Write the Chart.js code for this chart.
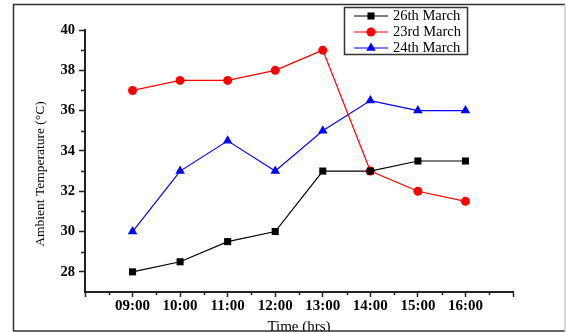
<!DOCTYPE html>
<html>
<head>
<meta charset="utf-8">
<script src="https://cdn.jsdelivr.net/npm/chart.js@4/dist/chart.umd.min.js"></script>
<style>
  html, body { margin: 0; padding: 0; background: #fff; overflow: hidden; }
  #wrap { width: 566px; height: 332px; position: relative; }
</style>
</head>
<body>
<div id="wrap"><canvas id="chart" width="566" height="332"></canvas></div>
<script>
// Hourly ambient temperature readings
const timeLabels = ['09:00', '10:00', '11:00', '12:00', '13:00', '14:00', '15:00', '16:00'];
const march26 = [28, 28.5, 29.5, 30, 33, 33, 33.5, 33.5];
const march23 = [37, 37.5, 37.5, 38, 39, 33, 32, 31.5];
const march24 = [30, 33, 34.5, 33, 35, 36.5, 36, 36];
const seriesNames = ['26th March', '23rd March', '24th March'];

// Axis ticks
const xTickHours = [8, 9, 10, 11, 12, 13, 14, 15, 16, 17];
const yTickValues = [28, 30, 32, 34, 36, 38, 40];
const xTitle = 'Time (hrs)';
const yTitle = 'Ambient Temperature (\u00B0C)';

const SERIF = '"Liberation Serif", "Times New Roman", serif';
const AXIS = '#222';

const hours = timeLabels.map(t => parseInt(t, 10));
const toPoints = vals => hours.map((h, i) => ({ x: h, y: vals[i] }));

function hourLabel(v) {
  const i = hours.indexOf(v);
  return i >= 0 ? timeLabels[i] : '';
}

function drawMarker(ctx, style, r, x, y, color) {
  ctx.fillStyle = color;
  ctx.beginPath();
  if (style === 'rect') {
    const s = Math.SQRT1_2 * r;
    ctx.rect(x - s, y - s, 2 * s, 2 * s);
  } else if (style === 'triangle') {
    for (let k = 0; k < 3; k++) {
      const a = k * 2 * Math.PI / 3;
      const px = x + Math.sin(a) * r, py = y - Math.cos(a) * r;
      k ? ctx.lineTo(px, py) : ctx.moveTo(px, py);
    }
    ctx.closePath();
  } else {
    ctx.arc(x, y, r, 0, Math.PI * 2);
  }
  ctx.fill();
}

const decorations = {
  id: 'decorations',
  afterDraw(chart) {
    const { ctx, chartArea: a, scales } = chart;
    const xs = scales.x, ys = scales.y;
    ctx.save();

    // minor ticks between labelled ones
    ctx.strokeStyle = AXIS;
    ctx.lineWidth = 1.5;
    ctx.beginPath();
    for (let v = xs.min + 0.5; v < xs.max; v += 1) {
      const px = Math.round(xs.getPixelForValue(v)) + 0.5;
      ctx.moveTo(px, a.bottom);
      ctx.lineTo(px, a.bottom + 3);
    }
    for (let v = 29; v < ys.max; v += 2) {
      const py = Math.round(ys.getPixelForValue(v)) + 0.5;
      ctx.moveTo(a.left - 4, py);
      ctx.lineTo(a.left, py);
    }
    ctx.stroke();

    // axis titles
    ctx.fillStyle = '#000';
    ctx.textBaseline = 'middle';
    ctx.textAlign = 'center';
    ctx.font = '15px ' + SERIF;
    ctx.fillText(xTitle, (a.left + a.right) / 2, 327);
    ctx.save();
    ctx.translate(40.5, (a.top + a.bottom) / 2 + 13);
    ctx.rotate(-Math.PI / 2);
    ctx.font = '13.5px ' + SERIF;
    ctx.fillText(yTitle, 0, 0);
    ctx.restore();

    // legend box
    const lx = 344.5, ly = 7.5, lw = 123, lh = 47;
    ctx.fillStyle = '#fff';
    ctx.fillRect(lx, ly, lw, lh);
    ctx.strokeStyle = '#333';
    ctx.lineWidth = 1.5;
    ctx.strokeRect(lx, ly, lw, lh);
    chart.data.datasets.forEach((ds, i) => {
      const y = ly + 8.5 + i * 16;
      ctx.strokeStyle = ds.borderColor;
      ctx.lineWidth = 1.2;
      ctx.beginPath();
      ctx.moveTo(354, y);
      ctx.lineTo(388, y);
      ctx.stroke();
      drawMarker(ctx, ds.pointStyle, ds.pointRadius, 371, y, ds.pointBackgroundColor);
      ctx.fillStyle = '#000';
      ctx.textAlign = 'left';
      ctx.font = '14.5px ' + SERIF;
      ctx.fillText(ds.label, 393, y + 0.5);
    });

    // outer frame
    ctx.lineWidth = 1.5;
    ctx.strokeStyle = '#333';
    ctx.beginPath();
    ctx.moveTo(565, 4.5); ctx.lineTo(13.5, 4.5); ctx.lineTo(13.5, 331); ctx.lineTo(565, 331);
    ctx.stroke();
    ctx.strokeStyle = '#ccc';
    ctx.beginPath();
    ctx.moveTo(565, 4.5); ctx.lineTo(565, 331);
    ctx.stroke();
    ctx.restore();
  }
};

new Chart(document.getElementById('chart'), {
  type: 'line',
  data: {
    datasets: [
      { label: seriesNames[0], data: toPoints(march26), borderColor: '#000', pointBackgroundColor: '#000',
        pointBorderColor: '#000', pointStyle: 'rect', pointRadius: 5 },
      { label: seriesNames[1], data: toPoints(march23), borderColor: '#ff0000', pointBackgroundColor: '#ff0000',
        pointBorderColor: '#ff0000', pointStyle: 'circle', pointRadius: 4.5 },
      { label: seriesNames[2], data: toPoints(march24), borderColor: '#0000ff', pointBackgroundColor: '#0000ff',
        pointBorderColor: '#0000ff', pointStyle: 'triangle', pointRadius: 5.5 }
    ].map(d => Object.assign({ borderWidth: 1.2, pointBorderWidth: 0, tension: 0, fill: false, clip: false }, d))
  },
  options: {
    responsive: false,
    animation: false,
    devicePixelRatio: 1,
    layout: { padding: { left: 0, top: 30, right: 53, bottom: 0 } },
    plugins: { legend: { display: false }, tooltip: { enabled: false } },
    scales: {
      x: {
        type: 'linear', min: 8, max: 17,
        afterBuildTicks: s => { s.ticks = xTickHours.map(v => ({ value: v })); },
        afterFit: s => { s.height = 40; },
        grid: { drawOnChartArea: false, drawTicks: true, tickLength: 5, color: AXIS, tickWidth: 1.5 },
        border: { display: true, color: AXIS, width: 2 },
        ticks: { padding: 0, color: '#000', maxRotation: 0, autoSkip: false,
                 font: { family: SERIF, size: 15, weight: 'bold' },
                 callback: v => hourLabel(v) }
      },
      y: {
        type: 'linear', min: 27, max: 40,
        afterBuildTicks: s => { s.ticks = yTickValues.map(v => ({ value: v })); },
        afterFit: s => { s.width = 85; },
        grid: { drawOnChartArea: false, drawTicks: true, tickLength: 6, color: AXIS, tickWidth: 1.5 },
        border: { display: true, color: AXIS, width: 2 },
        ticks: { padding: 4, color: '#000',
                 font: { family: SERIF, size: 14.5, weight: 'bold' } }
      }
    }
  },
  plugins: [decorations]
});
</script>
</body>
</html>
